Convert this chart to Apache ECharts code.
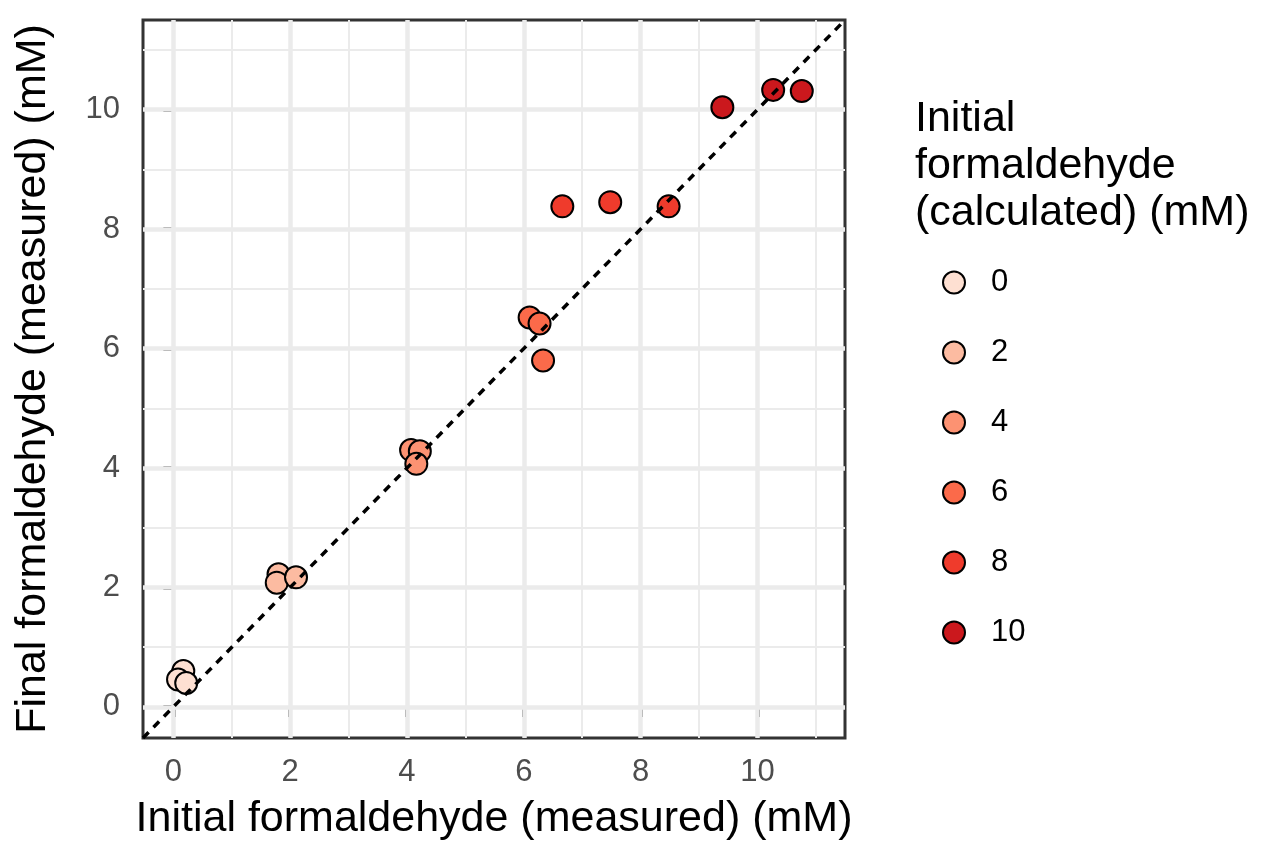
<!doctype html>
<html lang="en">
 <head>
  <meta charset="UTF-8">
  <style type="text/css">
  html,body{margin:0;padding:0;background:#fff;}
  #main{width:1263px;height:846px;}
  </style>
  <script src="https://cdn.jsdelivr.net/npm/echarts@6/dist/echarts.min.js"></script>
  <title>Formaldehyde</title>
 </head>
 <body>
    <div id="main"></div>
    <script type="text/javascript">
    // calculated initial formaldehyde groups (legend) and their fill colours
    var calcLevels = ['0', '2', '4', '6', '8', '10'];
    var calcColors = ['#FEE0D2', '#FCBBA1', '#FC9272', '#FB6A4A', '#EF3B2C', '#CB181D'];

    // measured initial (x) and final (y) values for each group
    var measX0 = [0.17, 0.08, 0.22];
    var finalY0 = [0.60, 0.46, 0.40];
    var measX2 = [1.80, 1.77, 2.10];
    var finalY2 = [2.22, 2.08, 2.17];
    var measX4 = [4.07, 4.22, 4.16];
    var finalY4 = [4.30, 4.28, 4.07];
    var measX6 = [6.10, 6.27, 6.33];
    var finalY6 = [6.52, 6.42, 5.80];
    var measX8 = [6.66, 7.48, 8.48];
    var finalY8 = [8.38, 8.45, 8.38];
    var measX10 = [9.40, 10.27, 10.76];
    var finalY10 = [10.04, 10.33, 10.31];

    // axis ticks
    var majorTicks = [0, 2, 4, 6, 8, 10];
    var minorTicks = [1, 3, 5, 7, 9, 11];
    var axisMin = -0.52;
    var axisMax = 11.5;

    var groupsX = [measX0, measX2, measX4, measX6, measX8, measX10];
    var groupsY = [finalY0, finalY2, finalY4, finalY6, finalY8, finalY10];

    var font = "'Liberation Sans', Arial, sans-serif";

    function pairs(xs, ys){
        var out = [];
        for(var i = 0; i < xs.length; i++){
            out.push([xs[i], ys[i]]);
        }
        return out;
    }

    // grid lines as mark lines (minor first, then major)
    var gridLines = [];
    for(var i = 0; i < minorTicks.length; i++){
        gridLines.push({xAxis: minorTicks[i], lineStyle: {color: '#EBEBEB', width: 2, type: 'solid'}});
        gridLines.push({yAxis: minorTicks[i], lineStyle: {color: '#EBEBEB', width: 2, type: 'solid'}});
    }
    for(var i = 0; i < majorTicks.length; i++){
        gridLines.push({xAxis: majorTicks[i], lineStyle: {color: '#EBEBEB', width: 4.5, type: 'solid'}});
        gridLines.push({yAxis: majorTicks[i], lineStyle: {color: '#EBEBEB', width: 4.5, type: 'solid'}});
    }

    var series = [{
        name: 'grid',
        type: 'line',
        data: [],
        silent: true,
        z: 1,
        markLine: {
            silent: true,
            z: 1,
            symbol: ['none', 'none'],
            label: {show: false},
            animation: false,
            data: gridLines
        }
    }];

    for(var g = 0; g < calcLevels.length; g++){
        series.push({
            name: calcLevels[g],
            type: 'scatter',
            symbol: 'circle',
            symbolSize: 22,
            z: 3,
            itemStyle: {color: calcColors[g], borderColor: '#000', borderWidth: 2, opacity: 1},
            data: pairs(groupsX[g], groupsY[g])
        });
    }

    // y = x reference line across the full panel
    series.push({
        name: 'identity',
        type: 'line',
        symbol: 'none',
        z: 4,
        silent: true,
        lineStyle: {color: '#000', width: 3.5, type: [8, 7]},
        data: [[axisMin, axisMin], [axisMax, axisMax]]
    });

    var myChart = echarts.init(document.getElementById('main'));
    var option = {
        animation: false,
        backgroundColor: '#fff',
        title: {
            text: 'Initial\nformaldehyde\n(calculated) (mM)',
            left: 910,
            top: 91,
            textStyle: {fontFamily: font, fontSize: 43, fontWeight: 'normal', color: '#000', lineHeight: 47}
        },
        legend: {
            data: calcLevels,
            orient: 'vertical',
            left: 937,
            top: 262,
            itemWidth: 22,
            itemHeight: 22,
            itemGap: 39,
            icon: 'circle',
            itemStyle: {borderColor: '#000', borderWidth: 2},
            textStyle: {fontFamily: font, fontSize: 31, color: '#000', lineHeight: 31, padding: [0, 0, 0, 21]}
        },
        grid: {
            left: 143,
            right: 418,
            top: 20,
            bottom: 108,
            show: true,
            backgroundColor: '#fff',
            borderColor: '#333333',
            borderWidth: 3
        },
        xAxis: {
            type: 'value',
            min: axisMin,
            max: axisMax,
            name: 'Initial formaldehyde (measured) (mM)',
            nameLocation: 'middle',
            nameGap: 60,
            nameTextStyle: {fontFamily: font, fontSize: 43, color: '#000'},
            axisLine: {show: false},
            axisTick: {show: true, length: 10, customValues: majorTicks, lineStyle: {color: '#333333', width: 4}},
            axisLabel: {customValues: majorTicks, fontFamily: font, fontSize: 31, color: '#4D4D4D', margin: 19},
            splitLine: {show: false}
        },
        yAxis: {
            type: 'value',
            min: axisMin,
            max: axisMax,
            name: 'Final formaldehyde (measured) (mM)',
            nameLocation: 'middle',
            nameGap: 88,
            nameTextStyle: {fontFamily: font, fontSize: 43, color: '#000'},
            axisLine: {show: false},
            axisTick: {show: true, length: 10, customValues: majorTicks, lineStyle: {color: '#333333', width: 4}},
            axisLabel: {customValues: majorTicks, fontFamily: font, fontSize: 31, color: '#4D4D4D', margin: 23},
            splitLine: {show: false}
        },
        series: series
    };
    myChart.setOption(option);
    </script>
 </body>
</html>
